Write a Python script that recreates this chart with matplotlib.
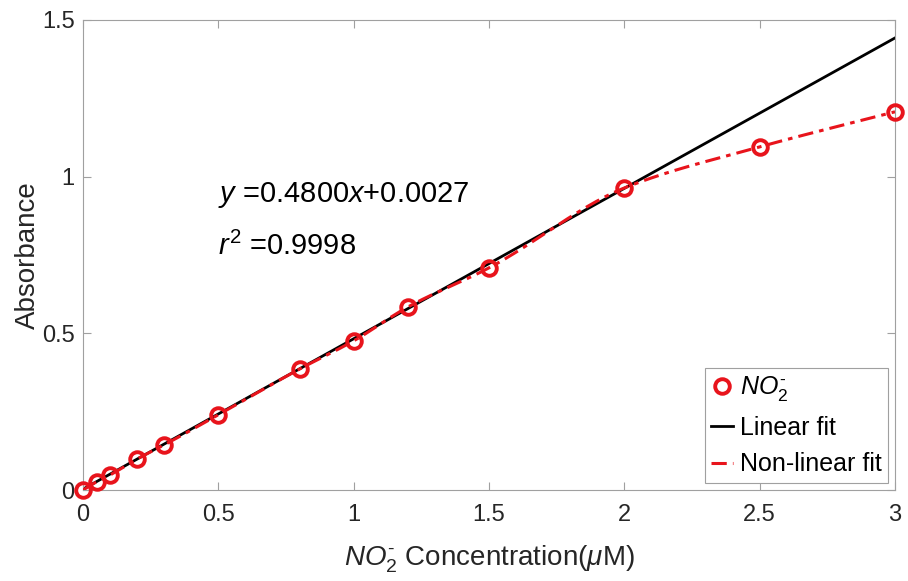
import numpy as np
import matplotlib.pyplot as plt

plt.rcParams['font.family'] = ['Liberation Sans', 'DejaVu Sans']
plt.rcParams['mathtext.fontset'] = 'custom'
plt.rcParams['mathtext.rm'] = 'Liberation Sans'
plt.rcParams['mathtext.it'] = 'Liberation Sans:italic'

# nitrite standards
conc = [0, 0.05, 0.1, 0.2, 0.3, 0.5, 0.8, 1.0, 1.2, 1.5, 2.0, 2.5, 3.0]
absorb = [0.0, 0.026, 0.048, 0.099, 0.144, 0.240, 0.386, 0.476, 0.584, 0.709, 0.964, 1.095, 1.207]

slope = 0.4800
intercept = 0.0027
r2 = 0.9998

no2 = r'$NO_2^{\text{-}}$'


def pchip(x, y, xs):
    # monotone cubic through the standards
    x = np.asarray(x, float)
    y = np.asarray(y, float)
    h = np.diff(x)
    d = np.diff(y) / h
    m = np.zeros_like(y)
    for k in range(1, len(x) - 1):
        if d[k - 1] * d[k] > 0:
            w1 = 2 * h[k] + h[k - 1]
            w2 = h[k] + 2 * h[k - 1]
            m[k] = (w1 + w2) / (w1 / d[k - 1] + w2 / d[k])
    m[0] = d[0]
    m[-1] = d[-1]
    idx = np.clip(np.searchsorted(x, xs) - 1, 0, len(x) - 2)
    t = (xs - x[idx]) / h[idx]
    h00 = 2 * t**3 - 3 * t**2 + 1
    h10 = t**3 - 2 * t**2 + t
    h01 = -2 * t**3 + 3 * t**2
    h11 = t**3 - t**2
    return h00 * y[idx] + h10 * h[idx] * m[idx] + h01 * y[idx + 1] + h11 * h[idx] * m[idx + 1]


xs = np.linspace(0, 3, 400)

fig = plt.figure(figsize=(9.08, 5.81), dpi=100)
ax = fig.add_axes([0.0914, 0.1566, 0.8943, 0.809])

ax.plot(conc, absorb, 'o', color='#e8141c', markerfacecolor='none', markersize=10.5,
        markeredgewidth=2.8, label=no2, zorder=4, clip_on=False)
ax.plot(xs, slope * xs + intercept, color='black', linewidth=2.0, label='Linear fit', zorder=2)
ax.plot(xs, pchip(conc, absorb, xs), color='#e8141c', linestyle='-.', linewidth=2.2,
        dashes=(5, 2, 1.5, 2), label='Non-linear fit', zorder=3)

ax.text(0.5, 0.941, r'$y$ =0.4800$x$+0.0027', fontsize=21, va='center')
ax.text(0.5, 0.776, r'$r^2$ =%.4f' % r2, fontsize=21, va='center')

ax.set_xlim(0, 3)
ax.set_ylim(0, 1.5)
ax.set_xticks([0, 0.5, 1, 1.5, 2, 2.5, 3])
ax.set_xticklabels(['0', '0.5', '1', '1.5', '2', '2.5', '3'])
ax.set_yticks([0, 0.5, 1, 1.5])
ax.set_yticklabels(['0', '0.5', '1', '1.5'])
ax.tick_params(direction='in', length=6, width=0.8, color='#a0a0a0', labelsize=17,
               top=True, right=True, labelcolor='#262626')
ax.tick_params(axis='x', pad=10)
ax.tick_params(axis='y', pad=6)
for s in ax.spines.values():
    s.set_color('#a0a0a0')
    s.set_linewidth(0.8)

ax.set_xlabel(no2 + r' Concentration($\mu$M)', fontsize=20, color='#262626', labelpad=13)
ax.set_ylabel('Absorbance', fontsize=20, color='#262626', labelpad=1)

leg = ax.legend(loc='lower right', fontsize=18, fancybox=False, framealpha=1,
                edgecolor='#a0a0a0', handlelength=0.9, handletextpad=0.25,
                borderaxespad=0.3, borderpad=0.25, labelspacing=0.5)
leg.get_frame().set_linewidth(0.8)

fig.savefig('out.png', dpi=100)
